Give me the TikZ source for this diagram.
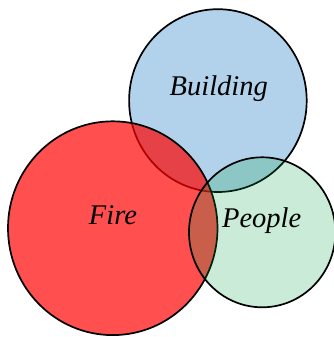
\documentclass[tikz,border=0pt]{standalone}
\usepackage{fontspec}
\setmainfont{Liberation Serif}
\definecolor{buildingblue}{RGB}{178,210,235}
\definecolor{peoplegreen}{RGB}{0,160,64}

\begin{document}
\begin{tikzpicture}[x=1pt, y=-1pt,
    % Styles
    buildingset/.style={draw=black, line width=1.7pt, fill=buildingblue},
    fireset/.style={draw=black, line width=1.7pt, fill=red, fill opacity=0.69},
    peopleset/.style={draw=black, line width=1.7pt, fill=peoplegreen, fill opacity=0.21},
    setlabel/.style={font=\fontsize{28.5}{34}\selectfont\itshape, inner sep=0pt, anchor=base},
]
\useasboundingbox (0,0) rectangle (334,337);

% Sets
\draw[buildingset] (217.9,100.6) ellipse [x radius=88.8pt, y radius=91.4pt];
\draw[fireset] (112.75,228.2) ellipse [x radius=104.75pt, y radius=106.9pt];
\draw[peopleset] (262.2,232.3) ellipse [x radius=73.2pt, y radius=75pt];

% Labels
\node[setlabel] (building) at (218.8,95) {Building};
\node[setlabel] (fire) at (113,224) {Fire};
\node[setlabel] (people) at (261.7,227.3) {People};

\end{tikzpicture}
\end{document}
